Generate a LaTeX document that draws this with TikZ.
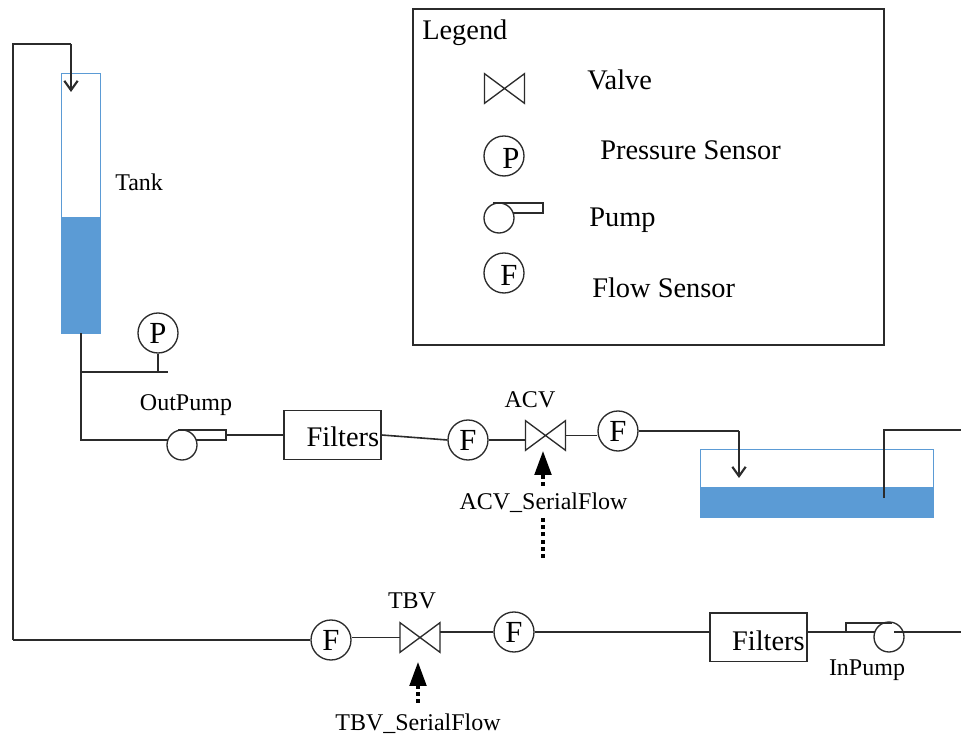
\documentclass[tikz,border=0pt]{standalone}
\usepackage{fontspec}
\setmainfont{Liberation Serif}
\usetikzlibrary{arrows.meta}
\definecolor{water}{HTML}{5B9BD5}
\definecolor{ink}{HTML}{2B2B2B}
\newcommand{\lblsize}{\fontsize{18}{20}\selectfont}
\newcommand{\bigsize}{\fontsize{21.3}{24}\selectfont}
\newcommand{\letsize}{\fontsize{23}{25}\selectfont}
\newcommand{\vlv}[2]{\node[valvebox] (#1) at (#2) {};
  \draw[thin pipe] (#1.north west) -- (#1.south west) -- (#1.north east) -- (#1.south east) -- (#1.north west) -- cycle;}
\tikzset{
  pipe/.style={draw=ink,line width=1.2pt,line join=miter},
  thin pipe/.style={draw=ink,line width=1pt},
  flowin/.style={draw=ink,line width=1.6pt,-{Straight Barb[length=7pt,width=10pt,line width=1.6pt]}},
  signal/.style={draw=black,line width=2.4pt,dash pattern=on 3pt off 2.4pt,-{Triangle[length=18pt,width=12.5pt]}},
  sensor/.style={circle,draw=ink,line width=1pt,minimum size=30pt,inner sep=0pt,font=\letsize},
  pumpbody/.style={circle,draw=ink,line width=1pt,minimum size=22.5pt,inner sep=0pt},
  valvebox/.style={inner sep=0pt,minimum width=29.5pt,minimum height=21.75pt},
  filterbox/.style={rectangle,draw=ink,line width=1pt,minimum width=72.75pt,minimum height=36.5pt,inner sep=0pt},
  lbl/.style={inner sep=0pt,font=\lblsize,text=black},
  biglbl/.style={inner sep=0pt,font=\bigsize,text=black,anchor=west},
  vessel/.style={rectangle,draw=water,line width=0.7pt,inner sep=0pt,fill=white},
  wat/.style={rectangle,draw=water,fill=water,line width=0.5pt,inner sep=0pt},
}
\begin{document}
\begin{tikzpicture}[x=0.75pt,y=-0.75pt]
\useasboundingbox (0,0) rectangle (961,737);
\fill[white] (0,0) rectangle (961,737);

% Legend
\node[rectangle,draw=ink,line width=1.2pt,minimum width=353.25pt,minimum height=252pt,inner sep=0pt] (legend) at (648.5,177) {};
\node[biglbl] (legendt) at (422,33) {Legend};
\vlv{lv}{504.5,88.5}
\node[biglbl] (lvt) at (587,80) {Valve};
\node[sensor] (lp) at (504,156) {};
\node[inner sep=0pt,font=\letsize] (lpt) at (511,158) {P};
\node[biglbl] (lpl) at (600,150) {Pressure Sensor};
\node[pumpbody] (lpu) at (499,218) {};
\coordinate (lpa) at (493,203);
\coordinate (lpb) at (543,203);
\coordinate (lpc) at (543,213);
\coordinate (lpd) at (513,213);
\draw[thin pipe] (lpa) -- (lpb) -- (lpc) -- (lpd);
\node[biglbl] (lput) at (589,220) {Pump};
\node[sensor] (lf) at (504,273) {};
\node[inner sep=0pt,font=\letsize] (lft) at (509,275) {F};
\node[biglbl] (lfl) at (592,288) {Flow Sensor};

% Tank
\node[vessel,minimum width=29.25pt,minimum height=195pt] (tank) at (80.5,203) {};
\node[wat,minimum width=29.25pt,minimum height=87pt] (tankw) at (80.5,275) {};
\node[lbl,anchor=west] (tankt) at (115,182) {Tank};
\coordinate (c1) at (13,44);
\coordinate (c2) at (71,44);
\coordinate (c3) at (71,92);
\coordinate (c4) at (13,640);

% Pressure sensor on outlet
\node[sensor] (ps) at (158,333) {P};
\coordinate (j1) at (81,372);
\coordinate (j2) at (168,372);
\coordinate (j3) at (158,372);
\draw[pipe] (j1) -- (j2);
\draw[pipe] (ps.south) -- (j3);

% Out pump
\node[pumpbody] (op) at (182,445) {};
\node[lbl] (opt) at (186,405) {OutPump};
\coordinate (o1) at (81,440);
\coordinate (o2) at (168.3,440);
\coordinate (ta) at (178,430);
\coordinate (tb) at (226,430);
\coordinate (tc) at (226,440);
\coordinate (td) at (196,440);
\coordinate (te) at (226,435);
\draw[pipe] (tankw.south -| j1) -- (o1) -- (o2);
\draw[thin pipe] (ta) -- (tb) -- (tc) -- (td);

% Upper row
\node[filterbox] (f1) at (332.5,435) {};
\node[inner sep=0pt,font=\bigsize,anchor=east] (f1t) at (379.5,437) {Filters};
\draw[pipe] (te) -- (f1.west);
\node[sensor] (fa) at (468,440) {F};
\draw[pipe] (f1.east) -- (fa.west);
\vlv{acv}{545.5,435.5}
\node[lbl] (acvt) at (530,400) {ACV};
\draw[pipe] (fa.east) -- (fa.east -| acv.west);
\node[sensor] (fb) at (618,431) {F};
\draw[pipe] (acv.east) -- (acv.east -| fb.west);
\coordinate (a1) at (739,431);
\coordinate (a2) at (739,478);
\draw[pipe] (fb.east) -- (a1);

% Basin
\node[vessel,minimum width=174.75pt,minimum height=51pt] (basin) at (816.5,483) {};
\node[wat,minimum width=174.75pt,minimum height=22pt] (basinw) at (816.5,502.5) {};
\draw[flowin] (a1) -- (a2);
\coordinate (b1) at (884,498);
\coordinate (b2) at (884,430);
\coordinate (b3) at (961,430);
\draw[pipe] (b1) -- (b2) -- (b3);

% Tank inflow loop
\draw[pipe] (c4) -- (c1) -- (c2);
\draw[flowin] (c2) -- (c3);

% ACV signal
\coordinate (s1) at (543,558);
\coordinate (s2) at (543,451);
\draw[signal] (s1) -- (s2);
\node[lbl,fill=white,inner ysep=3pt] (s1t) at (543.5,503) {ACV\_SerialFlow};

% Lower row
\node[sensor] (fc) at (331,640) {F};
\draw[pipe] (c4) -- (fc.west);
\vlv{tbv}{420,637.5}
\node[lbl] (tbvt) at (412,601) {TBV};
\draw[pipe] (tbv.west -| fc.east) -- (tbv.west);
\node[sensor] (fd) at (514,632) {F};
\draw[pipe] (fd.west -| tbv.east) -- (fd.west);
\node[filterbox] (f2) at (758.5,637.5) {};
\node[inner sep=0pt,font=\bigsize,anchor=east] (f2t) at (805,641) {Filters};
\coordinate (f2i) at (710,632);
\coordinate (f2o) at (807,632);
\draw[pipe] (fd.east) -- (f2i);
\node[pumpbody] (ip) at (889,637) {};
\node[lbl] (ipt) at (867,670) {InPump};
\coordinate (p1) at (846,632);
\coordinate (p2) at (846,623);
\coordinate (p3) at (892,623);
\coordinate (p4) at (875,632);
\coordinate (p5) at (894,632);
\coordinate (p6) at (961,632);
\draw[pipe] (f2o) -- (p4);
\draw[thin pipe] (p1) -- (p2) -- (p3);
\draw[pipe] (p5) -- (p6);

% TBV signal
\coordinate (s3) at (418,703);
\coordinate (s4) at (418,662);
\draw[signal] (s3) -- (s4);
\node[lbl] (s3t) at (418,724) {TBV\_SerialFlow};
\end{tikzpicture}
\end{document}
